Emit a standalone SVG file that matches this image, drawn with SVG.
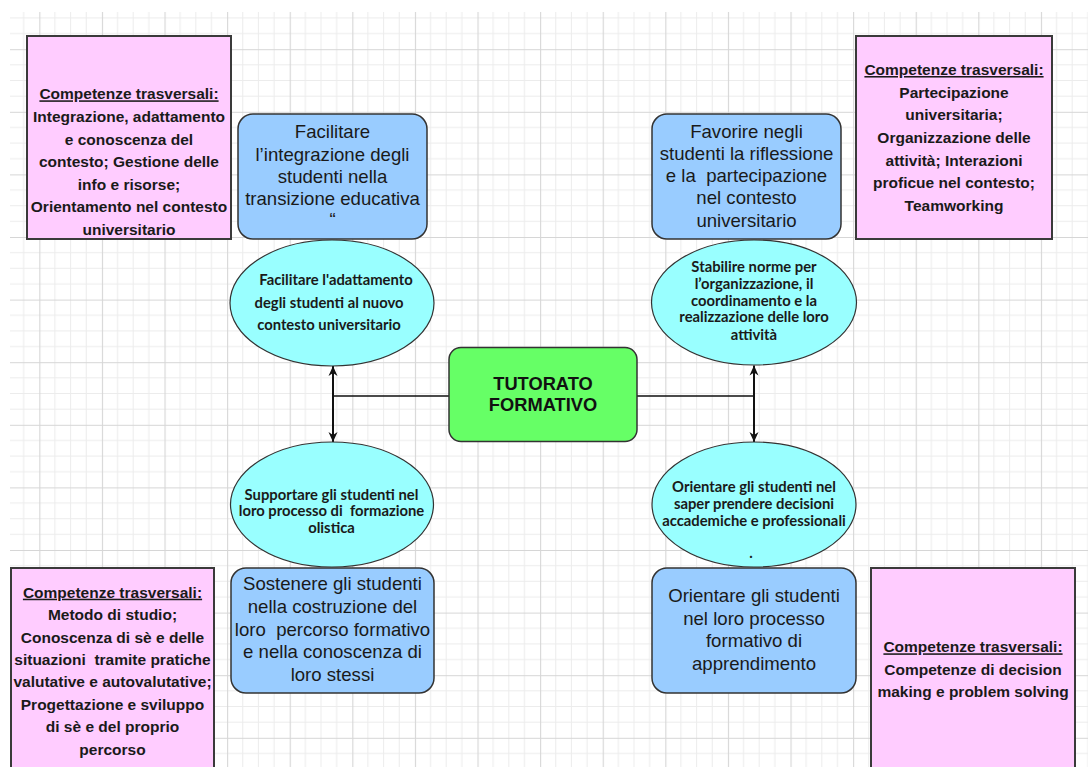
<svg xmlns="http://www.w3.org/2000/svg" width="1088" height="767" viewBox="0 0 1088 767">
  <style>
    .pink { fill: #ffccff; stroke: #3a3a3a; stroke-width: 2; }
    .blue { fill: #99ccff; stroke: #333333; stroke-width: 1.5; }
    .cyan { fill: #99ffff; stroke: #333333; stroke-width: 1.2; }
    .green { fill: #66ff66; stroke: #333333; stroke-width: 1.5; }
    .ptxt { font-family: "Liberation Sans", Arial, sans-serif; font-weight: bold; font-size: 15.5px; fill: #1a1a1a; text-anchor: middle; white-space: pre; }
    .btxt { font-family: "Liberation Sans", Arial, sans-serif; font-size: 18.6px; fill: #1a1a1a; text-anchor: middle; white-space: pre; }
    .etxt { font-family: Lato, "Liberation Sans", sans-serif; font-weight: bold; font-size: 14.8px; fill: #1a1a1a; text-anchor: middle; white-space: pre; }
    .ctxt { font-family: "Liberation Sans", Arial, sans-serif; font-weight: bold; font-size: 18.3px; fill: #111111; text-anchor: middle; }
    .ul { text-decoration: underline; }
    .conn { stroke: #111111; fill: none; }
  </style>
  <defs>
    <pattern id="grid" patternUnits="userSpaceOnUse" x="39.3" y="49.2" width="62.6" height="62.6">
      <path d="M15.65 0V62.6M31.3 0V62.6M46.95 0V62.6M0 15.65H62.6M0 31.3H62.6M0 46.95H62.6" stroke="#ececec" stroke-width="1" fill="none"/>
      <path d="M0.5 0V62.6M0 0.5H62.6" stroke="#d6d6d6" stroke-width="1.2" fill="none"/>
    </pattern>
    <marker id="arrow" viewBox="0 0 10 10" refX="10" refY="5" markerUnits="userSpaceOnUse" markerWidth="11" markerHeight="10" orient="auto-start-reverse">
      <path d="M0,0.5 L10,5 L0,9.5 L3,5 Z" fill="#111111"/>
    </marker>
  </defs>

  <!-- background and grid -->
  <rect x="0" y="0" width="1088" height="767" fill="#ffffff"/>
  <rect x="10" y="12" width="1078" height="755" fill="url(#grid)"/>

  <!-- connectors -->
  <g id="connectors">
    <path class="conn" stroke-width="1.6" d="M333 396H449M637 396H754"/>
    <line class="conn" stroke-width="2" x1="333" y1="366" x2="333" y2="442" marker-start="url(#arrow)" marker-end="url(#arrow)"/>
    <line class="conn" stroke-width="2" x1="754" y1="365.5" x2="754" y2="442" marker-start="url(#arrow)" marker-end="url(#arrow)"/>
  </g>

  <!-- centre node -->
  <g id="tutorato">
    <rect class="green" x="449" y="347.5" width="188" height="94" rx="12"/>
    <text class="ctxt" x="543" y="389.5">TUTORATO</text>
    <text class="ctxt" x="543" y="411">FORMATIVO</text>
  </g>

  <!-- top-left branch -->
  <g id="competenze-tl">
    <rect class="pink" x="27" y="36" width="204" height="203"/>
    <text class="ptxt ul" x="129" y="99.3">Competenze trasversali:</text>
    <text class="ptxt" x="129" y="121.9">Integrazione, adattamento</text>
    <text class="ptxt" x="129" y="144.5">e conoscenza del</text>
    <text class="ptxt" x="129" y="167.1">contesto; Gestione delle</text>
    <text class="ptxt" x="129" y="189.7">info e risorse;</text>
    <text class="ptxt" x="129" y="212.3">Orientamento nel contesto</text>
    <text class="ptxt" x="129" y="234.9">universitario</text>
  </g>
  <g id="obiettivo-tl">
    <rect class="blue" x="238" y="114" width="189" height="125" rx="15"/>
    <text class="btxt" x="332.5" y="137.5">Facilitare</text>
    <text class="btxt" x="332.5" y="160.5">l’integrazione degli</text>
    <text class="btxt" x="332.5" y="182.5">studenti nella</text>
    <text class="btxt" x="332.5" y="205">transizione educativa</text>
    <text class="btxt" x="332.5" y="226" font-size="9">“</text>
  </g>
  <g id="azione-tl">
    <ellipse class="cyan" cx="332" cy="303" rx="102" ry="63"/>
    <text class="etxt" x="336" y="285">Facilitare l'adattamento</text>
    <text class="etxt" x="329" y="307.5">degli studenti al nuovo</text>
    <text class="etxt" x="329" y="330">contesto universitario</text>
  </g>

  <!-- top-right branch -->
  <g id="competenze-tr">
    <rect class="pink" x="856" y="36" width="196" height="203"/>
    <text class="ptxt ul" x="954" y="75">Competenze trasversali:</text>
    <text class="ptxt" x="954" y="97.6">Partecipazione</text>
    <text class="ptxt" x="954" y="120.3">universitaria;</text>
    <text class="ptxt" x="954" y="142.9">Organizzazione delle</text>
    <text class="ptxt" x="954" y="165.6">attività; Interazioni</text>
    <text class="ptxt" x="954" y="188.2">proficue nel contesto;</text>
    <text class="ptxt" x="954" y="210.9">Teamworking</text>
  </g>
  <g id="obiettivo-tr">
    <rect class="blue" x="652" y="114" width="189" height="125" rx="15"/>
    <text class="btxt" x="746.5" y="137.5">Favorire negli</text>
    <text class="btxt" x="746.5" y="159.5">studenti la riflessione</text>
    <text class="btxt" x="746.5" y="181.5">e la  partecipazione</text>
    <text class="btxt" x="746.5" y="204">nel contesto</text>
    <text class="btxt" x="746.5" y="226.5">universitario</text>
  </g>
  <g id="azione-tr">
    <ellipse class="cyan" cx="754" cy="302.5" rx="102.5" ry="62.5"/>
    <text class="etxt" x="754" y="272">Stabilire norme per</text>
    <text class="etxt" x="754" y="289">l’organizzazione, il</text>
    <text class="etxt" x="754" y="305.5">coordinamento e la</text>
    <text class="etxt" x="754" y="322">realizzazione delle loro</text>
    <text class="etxt" x="754" y="339.5">attività</text>
  </g>

  <!-- bottom-left branch -->
  <g id="azione-bl">
    <ellipse class="cyan" cx="332" cy="504.5" rx="101.5" ry="62.5"/>
    <text class="etxt" x="331.5" y="499.5">Supportare gli studenti nel</text>
    <text class="etxt" x="331.5" y="516">loro processo di  formazione</text>
    <text class="etxt" x="331.5" y="533">olistica</text>
  </g>
  <g id="obiettivo-bl">
    <rect class="blue" x="231" y="568" width="203" height="125" rx="15"/>
    <text class="btxt" x="332.5" y="590">Sostenere gli studenti</text>
    <text class="btxt" x="332.5" y="613">nella costruzione del</text>
    <text class="btxt" x="332.5" y="635.5">loro  percorso formativo</text>
    <text class="btxt" x="332.5" y="658">e nella conoscenza di</text>
    <text class="btxt" x="332.5" y="680.5">loro stessi</text>
  </g>
  <g id="competenze-bl">
    <rect class="pink" x="11" y="568" width="203" height="212"/>
    <text class="ptxt ul" x="112.5" y="597.7">Competenze trasversali:</text>
    <text class="ptxt" x="112.5" y="620.1">Metodo di studio;</text>
    <text class="ptxt" x="112.5" y="642.5">Conoscenza di sè e delle</text>
    <text class="ptxt" x="112.5" y="664.9">situazioni  tramite pratiche</text>
    <text class="ptxt" x="112.5" y="687.3">valutative e autovalutative;</text>
    <text class="ptxt" x="112.5" y="709.7">Progettazione e sviluppo</text>
    <text class="ptxt" x="112.5" y="732.1">di sè e del proprio</text>
    <text class="ptxt" x="112.5" y="754.5">percorso</text>
  </g>

  <!-- bottom-right branch -->
  <g id="azione-br">
    <ellipse class="cyan" cx="754" cy="504.5" rx="102" ry="62.5"/>
    <text class="etxt" x="754" y="491.5">Orientare gli studenti nel</text>
    <text class="etxt" x="754" y="509">saper prendere decisioni</text>
    <text class="etxt" x="754" y="525.5">accademiche e professionali</text>
    <text class="etxt" x="751" y="557.5">.</text>
  </g>
  <g id="obiettivo-br">
    <rect class="blue" x="652" y="568" width="204" height="125" rx="15"/>
    <text class="btxt" x="754" y="602">Orientare gli studenti</text>
    <text class="btxt" x="754" y="624.5">nel loro processo</text>
    <text class="btxt" x="754" y="647">formativo di</text>
    <text class="btxt" x="754" y="669.5">apprendimento</text>
  </g>
  <g id="competenze-br">
    <rect class="pink" x="871" y="568" width="204" height="212"/>
    <text class="ptxt ul" x="973" y="652.3">Competenze trasversali:</text>
    <text class="ptxt" x="973" y="675">Competenze di decision</text>
    <text class="ptxt" x="973" y="697.3">making e problem solving</text>
  </g>
</svg>
